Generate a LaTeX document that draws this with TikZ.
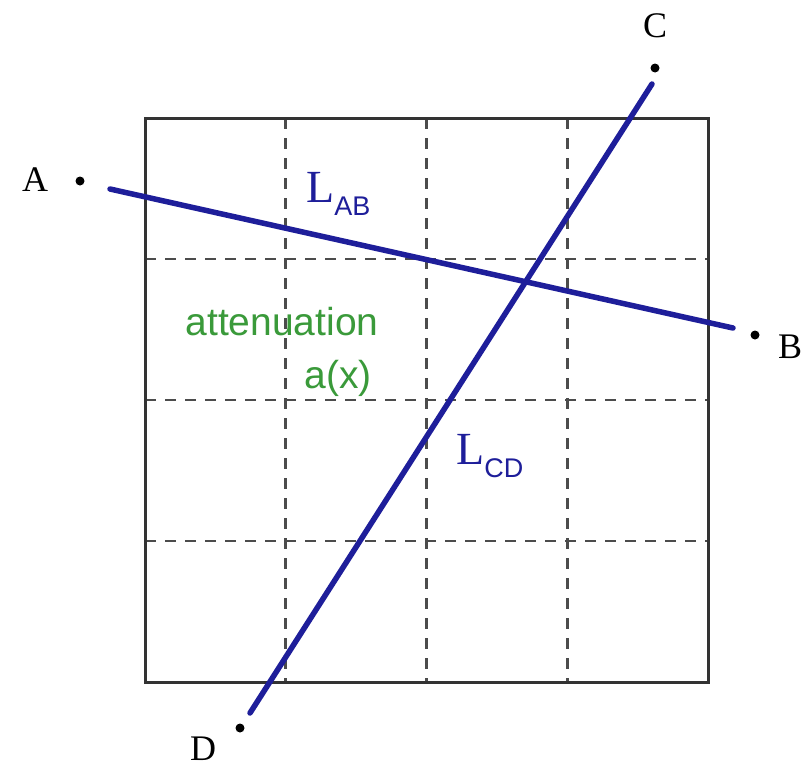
\documentclass[tikz,border=0pt]{standalone}
\usepackage{fontspec}
\setmainfont{Liberation Serif}
\newfontfamily\labsans{Liberation Sans}
\begin{document}
\begin{tikzpicture}[x=1pt,y=-1pt,
  ray/.style={line width=5.5pt,color=raycol,line cap=round},
  gridl/.style={line width=2.6pt,color=black!70,dash pattern=on 11pt off 9pt},
  frame/.style={line width=3pt,color=black!80},
  pt/.style={circle,fill=black,inner sep=0pt,minimum size=9pt},
  lab/.style={font=\fontsize{36}{36}\selectfont,inner sep=0pt},
  llab/.style={font=\fontsize{46}{46}\selectfont,text=raycol,inner sep=0pt},
  glab/.style={font=\labsans\fontsize{39}{39}\selectfont,text=attcol,inner sep=0pt}]
\definecolor{raycol}{HTML}{1E1E9A}
\definecolor{attcol}{HTML}{3A9A3A}
\useasboundingbox (0,0) rectangle (805,769);
\fill[white] (0,0) rectangle (805,769);
% dashed grid
\foreach \x in {285.75,426.5,567.25} \draw[gridl] (\x,118) -- (\x,682);
\foreach \y in {259,400,541} \draw[gridl] (145,\y) -- (708,\y);
% frame
\draw[frame] (145,118) rectangle (708,682);
% points
\node[pt] (A) at (80,181) {};
\node[pt] (B) at (755,335) {};
\node[pt] (C) at (655,68) {};
\node[pt] (D) at (240,728) {};
\node[lab] (Al) at (35,180) {A};
\node[lab] (Bl) at (790,347) {B};
\node[lab] (Cl) at (655,26) {C};
\node[lab] (Dl) at (203,749) {D};
% rays
\coordinate (a1) at (110,189);
\coordinate (b1) at (733,328);
\coordinate (c1) at (652,84);
\coordinate (d1) at (250,713);
\draw[ray] (a1) -- (b1);
\draw[ray] (c1) -- (d1);
% labels
\node[llab,anchor=base west] (LAB) at (306,202) {L\raisebox{-13pt}{\labsans\fontsize{27}{27}\selectfont AB}};
\node[llab,anchor=base west] (LCD) at (456,464) {L\raisebox{-13pt}{\labsans\fontsize{27}{27}\selectfont CD}};
\node[glab] (att) at (282,322) {attenuation};
\node[glab] (ax) at (338,378) {a(x)};
\end{tikzpicture}
\end{document}
